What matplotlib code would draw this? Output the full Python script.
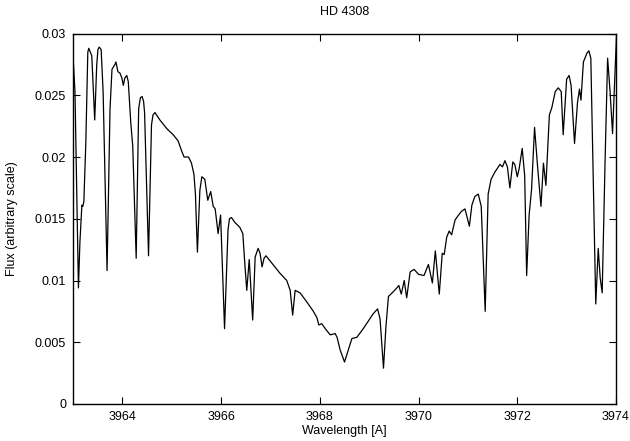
import matplotlib
matplotlib.use("Agg")
import matplotlib.pyplot as plt
from matplotlib.ticker import FormatStrFormatter

# Spectrum (wavelength in A, flux arbitrary)
wavelength = [
    3963.00, 3963.04, 3963.075, 3963.11, 3963.14, 3963.18, 3963.20, 3963.22,
    3963.26, 3963.30, 3963.32, 3963.34, 3963.38, 3963.44, 3963.48, 3963.505,
    3963.53, 3963.57, 3963.61, 3963.69, 3963.75, 3963.79, 3963.85, 3963.87,
    3963.91, 3963.95, 3963.99, 3964.02, 3964.05, 3964.09, 3964.12, 3964.17,
    3964.21, 3964.28, 3964.33, 3964.365, 3964.40, 3964.43, 3964.45, 3964.53,
    3964.59, 3964.62, 3964.66, 3964.76, 3964.90, 3965.03, 3965.13, 3965.20,
    3965.25, 3965.34, 3965.40, 3965.45, 3965.48, 3965.52, 3965.57, 3965.61,
    3965.67, 3965.73, 3965.79, 3965.84, 3965.88, 3965.94, 3965.99, 3966.07,
    3966.14, 3966.17, 3966.21, 3966.28, 3966.38, 3966.44, 3966.48, 3966.52,
    3966.57, 3966.64, 3966.69, 3966.75, 3966.79, 3966.83, 3966.87, 3966.91,
    3966.99, 3967.09, 3967.19, 3967.33, 3967.40, 3967.45, 3967.50, 3967.60,
    3967.73, 3967.87, 3967.94, 3967.98, 3968.04, 3968.11, 3968.21, 3968.31,
    3968.35, 3968.41, 3968.50, 3968.58, 3968.65, 3968.75, 3968.88, 3968.98,
    3969.08, 3969.17, 3969.22, 3969.29, 3969.34, 3969.39, 3969.49, 3969.56,
    3969.60, 3969.65, 3969.71, 3969.76, 3969.83, 3969.91, 3970.00, 3970.11,
    3970.20, 3970.28, 3970.34, 3970.42, 3970.48, 3970.52, 3970.57, 3970.62,
    3970.67, 3970.74, 3970.81, 3970.87, 3970.94, 3971.03, 3971.08, 3971.14,
    3971.21, 3971.27, 3971.35, 3971.41, 3971.47, 3971.55, 3971.60, 3971.65,
    3971.70, 3971.75, 3971.80, 3971.85, 3971.91, 3971.95, 3972.00, 3972.04,
    3972.10, 3972.15, 3972.19, 3972.24, 3972.29, 3972.35, 3972.41, 3972.48,
    3972.53, 3972.58, 3972.65, 3972.70, 3972.77, 3972.83, 3972.89, 3972.93,
    3973.00, 3973.05, 3973.09, 3973.16, 3973.22, 3973.26, 3973.29, 3973.34,
    3973.41, 3973.45, 3973.49, 3973.53, 3973.59, 3973.64, 3973.68, 3973.72,
    3973.78, 3973.83, 3973.88, 3973.93, 3973.98, 3974.01,
]
flux = [
    0.0282, 0.0253, 0.0172, 0.0094, 0.0131, 0.0161, 0.0160, 0.0164,
    0.0212, 0.0285, 0.0288, 0.0286, 0.0282, 0.0230, 0.0274, 0.0287,
    0.0289, 0.0287, 0.0253, 0.0108, 0.0239, 0.0271, 0.0275, 0.0277,
    0.0269, 0.0268, 0.0264, 0.0258, 0.0264, 0.0266, 0.0261, 0.0228,
    0.0209, 0.0118, 0.0239, 0.0248, 0.0249, 0.0245, 0.0236, 0.0120,
    0.0226, 0.0234, 0.0236, 0.0230, 0.0223, 0.0218, 0.0213, 0.0205,
    0.0200, 0.0200, 0.0195, 0.0186, 0.0170, 0.0123, 0.0173, 0.0184,
    0.0182, 0.0165, 0.0172, 0.0160, 0.0158, 0.0138, 0.0153, 0.0061,
    0.0141, 0.0150, 0.0151, 0.0147, 0.0143, 0.0138, 0.0114, 0.0092,
    0.0117, 0.0068, 0.0119, 0.0126, 0.0122, 0.0111, 0.0118, 0.0120,
    0.0116, 0.0111, 0.0106, 0.0100, 0.0092, 0.0072, 0.0092, 0.0090,
    0.0083, 0.0075, 0.0070, 0.0064, 0.0065, 0.0061, 0.0056, 0.0057,
    0.0054, 0.0044, 0.0034, 0.0044, 0.0053, 0.0054, 0.0061, 0.0067,
    0.0073, 0.0077, 0.0069, 0.0029, 0.0063, 0.0087, 0.0091, 0.0094,
    0.0096, 0.0089, 0.0100, 0.0086, 0.0107, 0.0109, 0.0105, 0.0104,
    0.0113, 0.0098, 0.0124, 0.0089, 0.0122, 0.0121, 0.0135, 0.0140,
    0.0137, 0.0149, 0.0153, 0.0156, 0.0158, 0.0144, 0.0161, 0.0168,
    0.0170, 0.0160, 0.0075, 0.0170, 0.0182, 0.0188, 0.0191, 0.0194,
    0.0192, 0.0197, 0.0192, 0.0175, 0.0196, 0.0194, 0.0184, 0.0191,
    0.0207, 0.0185, 0.0104, 0.0153, 0.0174, 0.0224, 0.0193, 0.0160,
    0.0195, 0.0177, 0.0234, 0.0240, 0.0253, 0.0256, 0.0253, 0.0218,
    0.0263, 0.0266, 0.0258, 0.0211, 0.0244, 0.0255, 0.0246, 0.0277,
    0.0284, 0.0286, 0.0280, 0.0199, 0.0081, 0.0126, 0.0102, 0.0090,
    0.0199, 0.0280, 0.0253, 0.0219, 0.0269, 0.0298,
]

x_ticks = [3964, 3966, 3968, 3970, 3972, 3974]
y_ticks = [0, 0.005, 0.01, 0.015, 0.02, 0.025, 0.03]

plt.rcParams['font.family'] = ['Liberation Sans', 'DejaVu Sans']

fig = plt.figure(figsize=(6.3, 4.41), dpi=100)
ax = fig.add_axes([73 / 630, 1 - 404 / 441, 543 / 630, 370.5 / 441])

ax.plot(wavelength, flux, color='black', lw=0.9)

ax.set_xlim(3963, 3974)
ax.set_ylim(0, 0.03)
ax.set_xticks(x_ticks)
ax.set_yticks(y_ticks)
ax.yaxis.set_major_formatter(FormatStrFormatter('%g'))
ax.tick_params(direction='in', length=5, width=0.8, top=True, right=True,
               labelsize=9, pad=5)
for s in ax.spines.values():
    s.set_linewidth(1.0)

# axis labels placed by their centres
ax.set_xlabel('Wavelength [A]', fontsize=9, va='center')
ax.set_ylabel('Flux (arbitrary scale)', fontsize=9, va='center')
ax.xaxis.set_label_coords(0.5, -27 / 370.5)
ax.yaxis.set_label_coords(-61 / 543, 0.5)
fig.text(344.5 / 630, 1 - 12 / 441, 'HD 4308', ha='center', va='center',
         fontsize=9)

fig.savefig('out.png', dpi=100)
